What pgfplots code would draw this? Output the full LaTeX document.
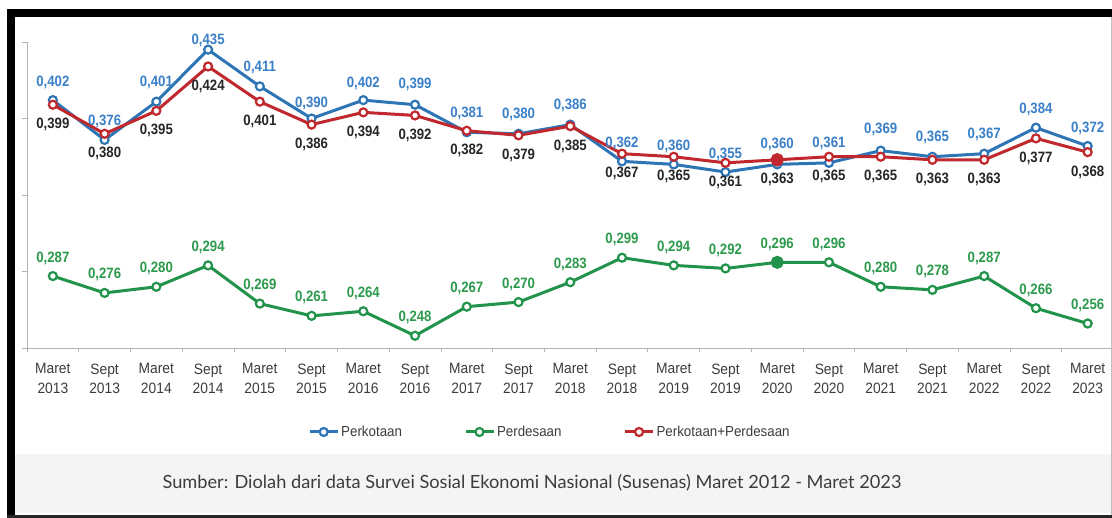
\documentclass[border=0pt]{standalone}
\usepackage{pgfplots}
\pgfplotsset{compat=1.18}
\usepackage{pgfplotstable}
\usepackage{fontspec}
\setmainfont{Liberation Sans}
\newfontfamily\labfont[FakeStretch=0.88]{Liberation Sans}
\newfontfamily\tickfont[FakeStretch=0.92]{Liberation Sans}
\newfontfamily\latofont{Lato}

\definecolor{cblue}{HTML}{2E75B6}
\definecolor{cred}{HTML}{C0282D}
\definecolor{cgreen}{HTML}{22934A}
\definecolor{lblue}{HTML}{3A80C9}
\definecolor{lgreen}{HTML}{2C9A4C}
\definecolor{lblack}{HTML}{262626}
\definecolor{bandgray}{HTML}{F3F4F3}
\definecolor{axgray}{HTML}{B4B4B4}
\definecolor{tickgray}{HTML}{3C3C3C}

\pgfplotstableread{
x kota desa total dk
0 0.402 0.287 0.399 18
1 0.376 0.276 0.380 18
2 0.401 0.280 0.395 19
3 0.435 0.294 0.424 9
4 0.411 0.269 0.401 19
5 0.390 0.261 0.386 15.5
6 0.402 0.264 0.394 17
7 0.399 0.248 0.392 20
8 0.381 0.267 0.382 19
9 0.380 0.270 0.379 19
10 0.386 0.283 0.385 19
11 0.362 0.299 0.367 18
12 0.360 0.294 0.365 18
13 0.355 0.292 0.361 18
14 0.360 0.296 0.363 20
15 0.361 0.296 0.365 19
16 0.369 0.280 0.365 21
17 0.365 0.278 0.363 19
18 0.367 0.287 0.363 19
19 0.384 0.266 0.377 18
20 0.372 0.256 0.368 18
}\data

\begin{document}
\begin{tikzpicture}
\fill[white] (0pt,0pt) rectangle (1112pt,518pt);
\fill[bandgray] (15pt,5pt) rectangle (1111pt,64pt);
\begin{axis}[
  at={(27pt,170pt)}, anchor=south west,
  scale only axis, width=1085pt, height=306pt,
  xmin=-0.5, xmax=20.47, ymin=0.24, ymax=0.44,
  axis x line*=bottom, axis y line*=left,
  axis line style={draw=axgray, line width=0.8pt},
  tick align=outside,
  ytick={0.24,0.29,0.34,0.39,0.44}, yticklabels={},
  ytick style={draw=axgray, line width=0.8pt}, major tick length=5pt,
  xtick={0,...,20},
  xticklabels={Maret\\2013,Sept\\2013,Maret\\2014,Sept\\2014,Maret\\2015,Sept\\2015,Maret\\2016,Sept\\2016,Maret\\2017,Sept\\2017,Maret\\2018,Sept\\2018,Maret\\2019,Sept\\2019,Maret\\2020,Sept\\2020,Maret\\2021,Sept\\2021,Maret\\2022,Sept\\2022,Maret\\2023},
  major x tick style={draw=none},
  minor xtick={-0.5,0.5,...,19.5},
  minor x tick style={draw=axgray, line width=0.8pt},
  minor tick length=4pt,
  xticklabel style={align=center, text=tickgray, yshift=-7pt, font=\tickfont\fontsize{15}{19.5}\selectfont},
  legend columns=3,
  legend style={at={(0.482,-0.2745)}, anchor=center, draw=none, fill=none,
    font=\tickfont\fontsize{14.5}{15}\selectfont, text=tickgray,
    /tikz/every even column/.append style={column sep=60pt}},
  legend image code/.code={\draw[mark repeat=2,mark phase=2,#1] plot coordinates {(0pt,0pt) (14pt,0pt) (28pt,0pt)};},
  clip=false,
  every axis plot/.append style={line width=3pt},
  nodes near coords={\pgfmathprintnumber[assume math mode=true,use comma,fixed,fixed zerofill,precision=3]{\pgfplotspointmeta}},
]
\addplot[cblue, mark=*, mark size=4pt, mark options={fill=white, line width=2.2pt},
  visualization depends on={\thisrow{dk} \as \dy},
  nodes near coords style={anchor=center, yshift=\dy*1pt, text=lblue, font=\labfont\bfseries\fontsize{15}{15}\selectfont}]
  table[x=x, y=kota] {\data};
\addlegendentry{Perkotaan}
\addplot[cgreen, mark=*, mark size=4pt, mark options={fill=white, line width=2.2pt},
  nodes near coords style={anchor=center, yshift=18pt, text=lgreen, font=\labfont\bfseries\fontsize{15}{15}\selectfont}]
  table[x=x, y=desa] {\data};
\addlegendentry{Perdesaan}
\addplot[cred, mark=*, mark size=4pt, mark options={fill=white, line width=2.2pt},
  nodes near coords style={anchor=center, yshift=-20pt, text=lblack, font=\labfont\bfseries\fontsize{15}{15}\selectfont}]
  table[x=x, y=total] {\data};
\addlegendentry{Perkotaan+Perdesaan}
\addplot[forget plot, only marks, mark=*, mark size=5.2pt, cred, nodes near coords={}] coordinates {(14,0.363)};
\addplot[forget plot, only marks, mark=*, mark size=5pt, cgreen, nodes near coords={}] coordinates {(14,0.296)};
\end{axis}
\node[font=\latofont\fontsize{18.2}{20}\selectfont, text=tickgray] at (532pt,35pt)
  {Sumber: Diolah dari data Survei Sosial Ekonomi Nasional (Susenas) Maret 2012 - Maret 2023};
% frame
\fill[black] (7pt,0pt) rectangle (15pt,509pt);
\fill[black] (7pt,501pt) rectangle (1112pt,509pt);
\fill[black!85] (7pt,0pt) rectangle (1112pt,2.5pt);
\fill[black!25] (1110.5pt,2.5pt) rectangle (1111.5pt,501pt);
\pgfresetboundingbox
\useasboundingbox (0pt,0pt) rectangle (1112pt,518pt);
\end{tikzpicture}
\end{document}
